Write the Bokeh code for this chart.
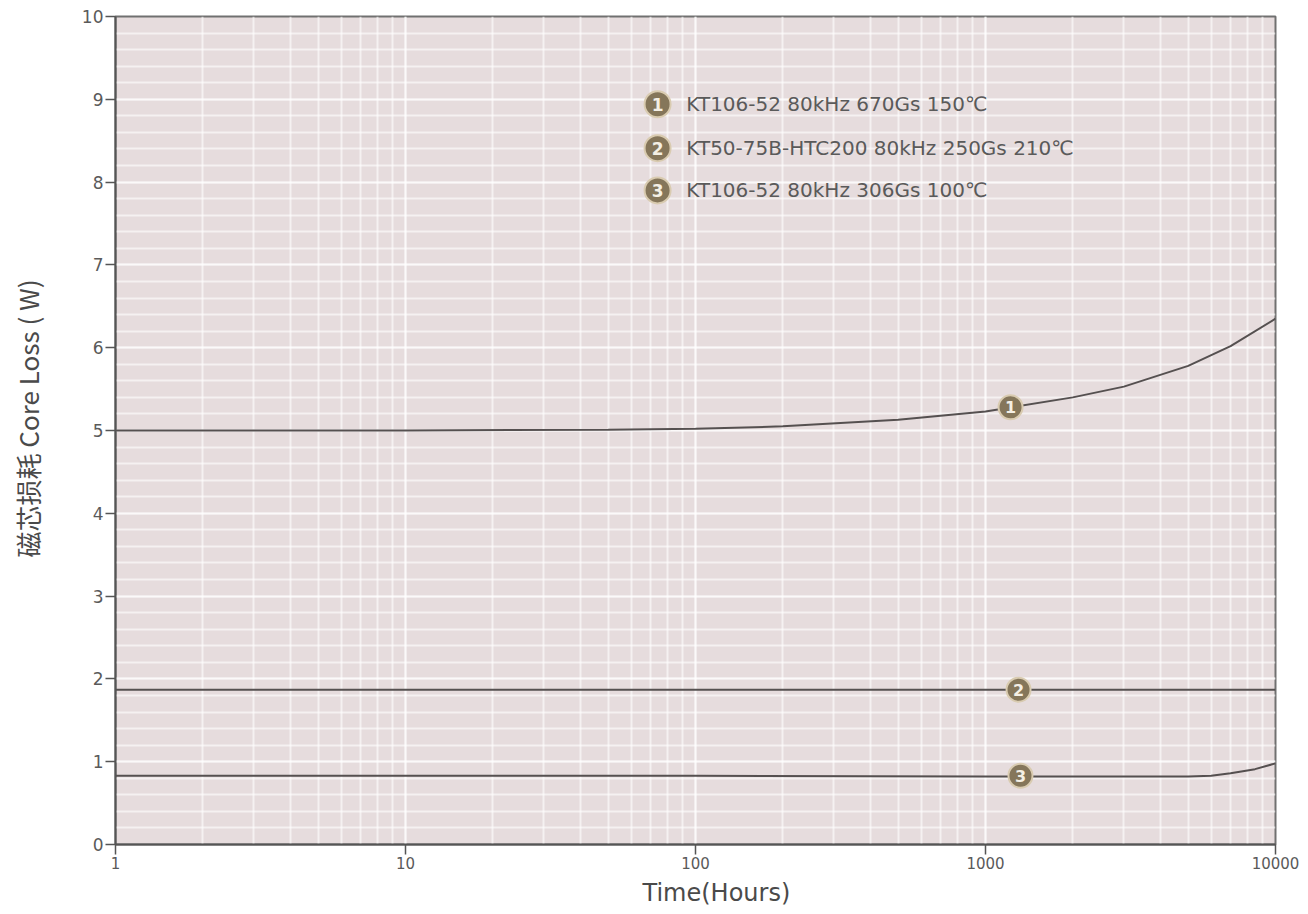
from bokeh.plotting import figure
from bokeh.models import Range1d, LogTicker, FixedTicker, Title, ColumnDataSource
from bokeh.core.properties import value
from bokeh.embed import file_html
from bokeh.resources import INLINE

# ---- data ----
hours1 = [1, 10, 50, 100, 200, 500, 1000, 2000, 3000, 5000, 7000, 10000]
loss1 = [5.0, 5.0, 5.01, 5.02, 5.05, 5.13, 5.23, 5.40, 5.53, 5.78, 6.02, 6.35]
hours2 = [1, 10, 100, 1000, 10000]
loss2 = [1.87, 1.87, 1.87, 1.87, 1.87]
hours3 = [1, 10, 100, 1000, 3000, 5000, 6000, 7000, 8500, 10000]
loss3 = [0.83, 0.83, 0.83, 0.82, 0.82, 0.82, 0.83, 0.86, 0.91, 0.98]
marker_hours = [1220, 1300, 1320]
marker_loss = [5.28, 1.87, 0.83]
marker_text = ["1", "2", "3"]
legend_labels = ["KT106-52 80kHz 670Gs 150\u2103",
                 "KT50-75B-HTC200  80kHz 250Gs 210\u2103",
                 "KT106-52 80kHz 306Gs 100\u2103"]
x_ticks = [1, 10, 100, 1000, 10000]
y_ticks = list(range(0, 11))

BG = "#e6dcdd"
LINE = "#555050"
MARK_FILL = "#85765a"
MARK_LINE = "#d9cbb0"
TXT = "#5a5a5a"
FONT = "DejaVu Sans"

p = figure(width=1308, height=914, x_axis_type="log",
           x_range=Range1d(1, 10000), y_range=Range1d(0, 10),
           output_backend="svg", toolbar_location=None,
           min_border_left=115, min_border_right=33,
           min_border_top=16, min_border_bottom=70)
p.background_fill_color = BG
p.border_fill_color = "white"
p.outline_line_color = "#707070"
p.outline_line_width = 2

# grids
p.xgrid.ticker = LogTicker(num_minor_ticks=10)
p.ygrid.ticker = FixedTicker(ticks=y_ticks, minor_ticks=[i * 0.2 for i in range(51)])
for g in (p.xgrid[0], p.ygrid[0]):
    g.grid_line_color = "white"
    g.grid_line_alpha = 0.6
    g.grid_line_width = 2
    g.minor_grid_line_color = "white"
    g.minor_grid_line_alpha = 0.6
    g.minor_grid_line_width = 2

# axes
p.xaxis.ticker = FixedTicker(ticks=x_ticks)
p.yaxis.ticker = FixedTicker(ticks=y_ticks)
p.xaxis.major_label_overrides = {t: str(t) for t in x_ticks}
for ax in (p.xaxis[0], p.yaxis[0]):
    ax.axis_line_color = "#555555"
    ax.axis_line_width = 2
    ax.major_tick_line_color = "#555555"
    ax.major_tick_line_width = 1.5
    ax.major_tick_out = 10
    ax.major_tick_in = 0
    ax.minor_tick_line_color = None
    ax.major_label_text_font = FONT
    ax.major_label_text_color = TXT
p.xaxis.major_label_text_font_size = "15px"
p.yaxis.major_label_text_font_size = "17px"
p.xaxis.major_label_standoff = 2
p.yaxis.major_label_standoff = 2

# axis titles (Title panels, positioned with offset from frame start)
p.add_layout(Title(text="Time(Hours)", align="left", offset=527,
                   text_font=FONT, text_font_size="24px", text_font_style="normal",
                   text_color="#4a4a4a"), "below")
p.add_layout(Title(text=" ", text_font_size="14px"), "left")
p.add_layout(Title(text="磁芯损耗  Core Loss ( W)", align="left", offset=287,
                   text_font="Noto Sans CJK SC", text_font_size="26px",
                   text_font_style="normal", text_color="#4a4a4a"), "left")

# curves
for hx, ly in ((hours1, loss1), (hours2, loss2), (hours3, loss3)):
    p.line(hx, ly, line_color=LINE, line_width=2)

# curve markers
src = ColumnDataSource(dict(x=marker_hours, y=marker_loss, t=marker_text))
p.scatter("x", "y", source=src, size=24, fill_color=MARK_FILL,
          line_color=MARK_LINE, line_width=2)
p.text("x", "y", text="t", source=src, text_align="center", text_baseline="middle",
       text_color="#f4efe4", text_font=value(FONT), text_font_style="bold",
       text_font_size="16px")

# legend (layout positions in data space)
leg_x_circle = 74
leg_x_text = 93
leg_y = [8.94, 8.41, 7.90]
lsrc = ColumnDataSource(dict(x=[leg_x_circle] * 3, y=leg_y, t=marker_text,
                             tx=[leg_x_text] * 3, lab=legend_labels))
p.scatter("x", "y", source=lsrc, size=26, fill_color=MARK_FILL,
          line_color=MARK_LINE, line_width=2)
p.text("x", "y", text="t", source=lsrc, text_align="center", text_baseline="middle",
       text_color="#f4efe4", text_font=value(FONT), text_font_style="bold",
       text_font_size="17px")
p.text("tx", "y", text="lab", source=lsrc, text_align="left", text_baseline="middle",
       text_color=TXT, text_font=value(FONT), text_font_size="20px")

open("out.html", "w").write(file_html(p, INLINE))
